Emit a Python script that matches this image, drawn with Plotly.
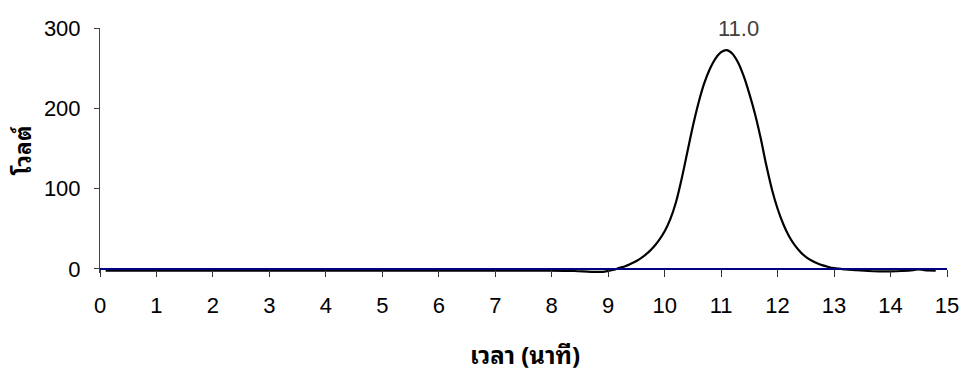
import plotly.graph_objects as go

# Data
time_min = [0.1, 1.0, 2.0, 3.0, 4.0, 5.0, 6.0, 7.0, 8.0, 8.4, 8.7, 8.9, 9.0, 9.1, 9.2, 9.3, 9.4,
            9.5, 9.6, 9.7, 9.8, 9.9, 10.0, 10.1, 10.2, 10.3, 10.4, 10.5, 10.6, 10.7, 10.8,
            10.9, 11.0, 11.1, 11.2, 11.3, 11.4, 11.5, 11.6, 11.7, 11.8, 11.9, 12.0, 12.1,
            12.2, 12.3, 12.4, 12.5, 12.6, 12.7, 12.8, 12.9, 13.0, 13.2, 13.4, 13.6, 13.8,
            14.0, 14.2, 14.4, 14.5, 14.6, 14.8]
volts = [-2, -2, -2, -2, -2, -2, -2, -2, -2, -2.5, -3.5, -3.5, -2.5, -1, 1.5, 3.5, 6.5,
         10, 14.5, 20, 27, 36, 47, 62, 83, 112, 145, 178, 207, 231, 249,
         262, 270, 272.5, 268, 257, 240, 218, 193, 163, 129, 99, 75, 56,
         41, 30, 21.5, 15, 10.5, 7, 4.5, 2.5, 1, -0.5, -1.5, -2.5, -3,
         -3, -2.5, -1.5, -0.5, -1.5, -2]

x_ticks = list(range(0, 16))
y_ticks = [0, 100, 200, 300]
peak_label = "11.0"
peak_label_x = 11.31
x_title = "เวลา (นาที)"
y_title = "โวลต์"

W, H = 961, 376
L, R, T, B = 100, 14, 28, 103
y_min, y_max = -5, 300

fig = go.Figure()
fig.add_trace(go.Scatter(
    x=time_min, y=volts, mode="lines",
    line=dict(color="black", width=2.2, shape="spline", smoothing=1.0),
    showlegend=False, hoverinfo="skip",
))

tick_font = dict(family="Liberation Sans, Arial, sans-serif", size=22, color="black")
thai_font = ("'Noto Sans Thai Looped', Loma, Garuda, Waree, Tahoma, 'Tlwg Typo', "
             "'Noto Sans Thai', 'Noto Serif Thai', sans-serif")

fig.update_layout(
    width=W, height=H,
    margin=dict(l=L, r=R, t=T, b=B, autoexpand=False),
    paper_bgcolor="white", plot_bgcolor="white",
    xaxis=dict(
        range=[0, 15], tickvals=x_ticks, ticktext=[str(v) for v in x_ticks],
        showgrid=False, zeroline=False, automargin=False,
        showline=True, linecolor="#000080", linewidth=2,
        ticks="outside", ticklen=7, tickwidth=1, tickcolor="#333333",
        anchor="free", position=(0 - y_min) / (y_max - y_min),
        tickfont=tick_font, ticklabelstandoff=10,
    ),
    yaxis=dict(
        range=[y_min, y_max], tickvals=y_ticks, ticktext=[str(v) for v in y_ticks],
        showgrid=False, zeroline=False, automargin=False,
        showline=True, linecolor="#444444", linewidth=1,
        ticks="outside", ticklen=5, tickwidth=1, tickcolor="#444444",
        tickfont=tick_font, ticklabelstandoff=9,
    ),
    annotations=[
        dict(x=peak_label_x, y=300, xref="x", yref="y", text=peak_label, showarrow=False,
             xanchor="center", yanchor="middle",
             font=dict(family="Liberation Sans, Arial, sans-serif", size=22, color="#404040")),
        dict(x=(525 - L) / (W - L - R), y=(H - B - 353) / (H - T - B), xref="paper", yref="paper",
             text="<b>" + x_title + "</b>", showarrow=False, xanchor="center", yanchor="middle",
             font=dict(family=thai_font, size=24, color="black")),
        dict(x=(20 - L) / (W - L - R), y=(H - B - 151) / (H - T - B), xref="paper", yref="paper",
             text="<b>" + y_title + "</b>", showarrow=False, xanchor="center", yanchor="middle",
             textangle=-90,
             font=dict(family=thai_font, size=23, color="black")),
    ],
)

fig.write_html("out.html")
